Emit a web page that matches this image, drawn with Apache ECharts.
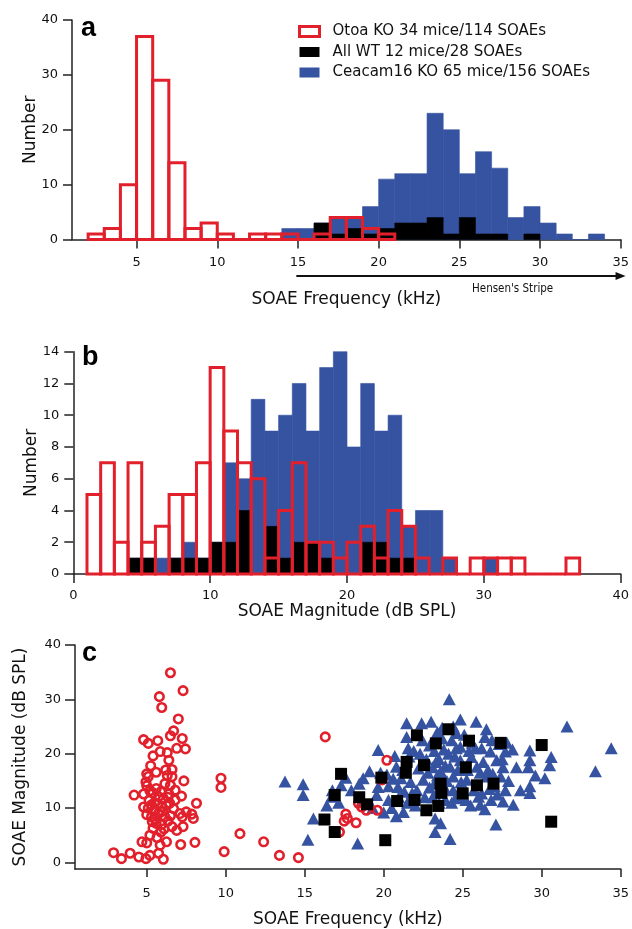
<!DOCTYPE html>
<html>
<head>
<meta charset="utf-8">
<script src="https://cdn.jsdelivr.net/npm/echarts@6/dist/echarts.min.js"></script>
<style>
  html, body { margin: 0; padding: 0; background: #fff; }
  #chart { width: 632px; height: 929px; }
</style>
</head>
<body>
<div id="chart"></div>
<script>
// ---- Panel a: SOAE frequency histograms (1 kHz bins, lower edges) ----
const aOtoaEdges = [2, 3, 4, 5, 6, 7, 8, 9, 10, 11, 12, 13, 14, 15, 16, 17, 18, 19, 20];
const aOtoaCounts = [1, 2, 10, 37, 29, 14, 2, 3, 1, 0, 1, 1, 1, 0, 1, 4, 4, 2, 1];
const aWtEdges = [16, 17, 18, 19, 20, 21, 22, 23, 24, 25, 26, 27, 29];
const aWtCounts = [3, 1, 2, 1, 2, 3, 3, 4, 1, 4, 1, 1, 1];
const aCeacamEdges = [14, 15, 16, 17, 18, 19, 20, 21, 22, 23, 24, 25, 26, 27, 28, 29, 30, 31, 32, 33];
const aCeacamCounts = [2, 2, 3, 4, 4, 6, 11, 12, 12, 23, 20, 12, 16, 13, 4, 6, 3, 1, 0, 1];
const aFreqTicks = [5, 10, 15, 20, 25, 30, 35];

// ---- Panel b: SOAE magnitude histograms (1 dB bins, lower edges) ----
const bOtoaEdges = [1, 2, 3, 4, 5, 6, 7, 8, 9, 10, 11, 12, 13, 14, 15, 16, 17, 18, 19, 20, 21, 22, 23, 24, 25, 26, 27, 28, 29, 30, 31, 32, 33, 34, 35, 36];
const bOtoaCounts = [5, 7, 2, 7, 2, 3, 5, 5, 7, 13, 9, 7, 6, 1, 4, 7, 2, 2, 1, 2, 3, 1, 4, 3, 1, 0, 1, 0, 1, 1, 1, 1, 0, 0, 0, 1];
const bWtEdges = [4, 5, 7, 8, 9, 10, 11, 12, 14, 15, 16, 17, 18, 21, 22, 23, 24];
const bWtCounts = [1, 1, 1, 1, 1, 2, 2, 4, 3, 1, 2, 2, 1, 2, 2, 1, 1];
const bCeacamEdges = [4, 5, 6, 7, 8, 9, 10, 11, 12, 13, 14, 15, 16, 17, 18, 19, 20, 21, 22, 23, 24, 25, 26, 27, 30];
const bCeacamCounts = [1, 1, 1, 1, 2, 1, 2, 7, 6, 11, 9, 10, 12, 9, 13, 14, 8, 12, 9, 10, 3, 4, 4, 1, 1];

// ---- Panel c: frequency (kHz) vs magnitude (dB SPL) ----
const cOtoa = [
  [6.5,34.9],[7.3,31.6],[5.8,30.5],[5.95,28.5],[7.0,26.4],[6.7,24.2],[6.5,23.3],
  [4.8,22.6],[5.1,21.9],[5.7,22.4],[7.25,22.8],[6.9,21.0],[7.45,20.9],[6.3,20.2],[5.85,20.4],[5.4,19.6],[6.4,18.8],
  [6.2,17.0],[6.6,17.1],[5.0,16.3],[5.1,15.8],[6.6,15.8],[7.35,15.0],[4.95,14.8],[5.0,14.1],[6.5,14.2],[6.15,14.5],
  [4.2,12.4],[4.8,12.6],[5.4,12.8],[5.75,12.1],[6.05,11.8],[6.35,12.0],[7.2,12.2],[5.15,11.4],[5.5,11.0],[6.45,10.9],[8.15,10.9],
  [4.8,10.2],[5.1,10.0],[5.45,9.6],[5.95,10.2],[6.25,10.5],[6.7,9.9],[7.1,9.0],[7.5,9.3],[7.85,8.9],
  [5.0,8.8],[5.3,8.4],[5.75,9.0],[6.15,8.4],[6.5,8.6],[7.25,8.4],[7.95,8.1],[5.35,7.5],[5.6,7.2],
  [5.4,6.3],[5.9,5.6],[6.6,6.6],[6.9,5.9],[7.3,6.6],
  [4.7,3.8],[5.0,3.6],[5.85,3.2],[6.25,3.8],[7.15,3.3],[8.05,3.7],
  [2.9,1.8],[3.4,0.7],[3.95,1.7],[4.5,1.0],[4.95,0.7],[5.2,1.3],[5.75,1.7],[6.05,0.6],
  [5.2,13.2],[5.6,13.6],[5.9,13.0],[5.3,10.6],[5.7,10.8],[6.0,9.4],[5.55,8.0],[6.35,7.6],[5.2,5.0],[5.65,4.6],
  [6.4,12.6],[6.8,11.5],[5.95,7.0],[6.1,6.2],[6.8,13.3],[5.6,16.6],[5.25,17.8],[6.3,16.0],
  [9.7,15.5],[9.7,13.8],[9.9,2.0],[10.9,5.3],[12.4,3.8],[13.4,1.3],[14.6,0.9],[16.3,23.1],
  [17.2,5.6],[17.6,8.9],[17.7,8.1],[18.25,7.3],[18.4,10.9],[18.9,9.6],[19.6,9.6],[19.9,15.2],[20.2,18.8],[17.5,7.6],[18.6,10.2]
];
const cWt = [
  [24.1,24.5],[22.1,23.4],[23.3,21.9],[25.4,22.4],[27.4,22.0],[30.0,21.6],[21.45,18.5],[21.4,16.5],
  [22.55,17.9],[25.2,17.5],[17.3,16.3],[19.85,15.6],[23.6,14.5],[23.65,12.8],[25.9,14.2],[26.95,14.5],
  [25.0,12.7],[16.9,12.4],[18.45,12.0],[18.95,10.7],[20.85,11.3],[21.95,11.5],[23.45,10.4],[22.7,9.6],
  [16.25,7.9],[16.9,5.6],[20.1,4.1],[30.6,7.5]
];
const cCeacam = [
  [13.75,14.9],
  [14.9,14.4],[14.9,12.4],
  [15.55,8.1],[15.2,4.2],
  [16.75,13.3],[16.7,12.1],[16.4,10.5],
  [17.3,14.2],[17.15,11.0],[17.95,13.3],[17.6,15.6],
  [18.45,14.5],[18.7,15.5],[18.35,3.5],[18.6,11.2],
  [19.1,16.8],[19.65,20.7],[19.65,13.9],[19.55,12.4],[19.3,10.0],[19.8,16.5],
  [20.7,19.6],[20.8,17.6],[20.9,13.9],[20.3,11.5],[20.5,10.0],[20.0,9.2],[20.6,15.4],[20.3,14.0],[20.95,12.0],[20.2,16.2],[20.8,8.5],
  [21.45,25.6],[21.45,23.1],[21.55,21.0],[21.25,9.3],[21.6,19.5],[21.2,17.0],[21.7,14.8],[21.3,13.0],[21.8,12.8],[21.5,11.0],[21.9,20.5],[21.1,15.5],
  [22.4,25.6],[22.1,13.3],[22.5,15.2],[22.3,20.0],[22.7,19.0],[22.2,17.3],[22.9,21.5],[22.6,12.0],[22.8,16.5],[22.0,10.5],[22.45,22.5],[22.9,13.8],
  [23.0,25.9],[23.25,8.1],[23.25,5.6],[23.6,7.2],[23.4,24.0],[23.7,22.8],[23.2,20.5],[23.5,19.0],[23.8,20.8],[23.1,17.5],[23.4,16.0],[23.9,17.8],
  [23.2,14.5],[23.8,15.2],[23.1,12.0],[23.9,11.5],[23.5,11.0],[23.3,18.5],[23.7,24.8],[23.9,13.5],[23.1,22.2],[23.6,16.8],[23.4,13.0],
  [24.15,30.0],[24.85,26.3],[24.4,25.0],[24.85,21.3],[24.85,18.8],[24.4,15.8],[24.4,13.3],[24.2,4.3],[24.3,22.5],[24.6,23.8],
  [24.1,20.0],[24.5,19.5],[24.7,17.0],[24.2,17.6],[24.9,14.8],[24.6,12.2],[24.3,11.0],[24.8,11.8],[24.0,15.0],[24.6,21.0],
  [25.85,25.9],[25.55,19.4],[25.9,17.6],[25.25,15.2],[25.7,13.3],[25.1,23.5],[25.4,20.5],[25.6,22.0],[25.3,17.0],[25.2,11.5],[25.8,21.0],[25.5,10.5],
  [26.0,12.1],[26.1,10.6],[26.2,12.7],[26.4,23.1],[26.85,22.5],[26.75,20.4],[26.5,15.8],[26.3,18.5],[26.6,17.0],[26.9,16.3],[26.2,21.0],[26.7,13.5],
  [26.4,9.8],[26.8,11.5],[26.1,16.5],[26.5,24.5],
  [27.15,18.8],[27.7,20.4],[27.55,17.5],[27.9,15.0],[27.7,13.3],[27.55,11.2],[27.1,7.0],[27.3,21.8],[27.4,15.8],[27.2,12.5],[27.8,22.0],[27.0,14.0],[27.5,19.0],
  [28.15,20.8],[28.4,17.5],[28.65,13.3],[28.2,10.6],
  [29.25,20.6],[29.25,18.8],[29.15,17.5],[29.25,14.0],[29.25,12.8],[29.6,16.0],
  [30.6,19.4],[30.5,17.9],[30.2,15.5],
  [31.6,25.0],[33.4,16.8],[34.4,21.0]
];
const cFreqTicks = [5, 10, 15, 20, 25, 30, 35];
const cMagTicks = [0, 10, 20, 30, 40];

const names = {
  otoa: 'Otoa KO 34 mice/114 SOAEs',
  wt: 'All WT 12 mice/28 SOAEs',
  ceacam: 'Ceacam16 KO 65 mice/156 SOAEs'
};

const RED = '#e2202c';
const BLUE = '#3553a0';
const BLACK = '#000000';
const AXIS = '#222222';
const FONT = 'DejaVu Sans';
const TICK_FONT = 13;
const NAME_FONT = 17;

function pairs(edges, counts) {
  return edges.map((e, i) => [e, counts[i]]);
}

// Histogram bars drawn as rectangles spanning [edge, edge + 1] on the value axis.
function histogram(name, gridIdx, edges, counts, outline, color) {
  return {
    name: name,
    type: 'custom',
    xAxisIndex: gridIdx,
    yAxisIndex: gridIdx,
    clip: false,
    silent: true,
    itemStyle: { color: outline ? '#ffffff' : color },
    data: pairs(edges, counts),
    renderItem: function (params, api) {
      const x0 = api.value(0);
      const h = api.value(1);
      const p0 = api.coord([x0, 0]);
      const p1 = api.coord([x0 + 1, h]);
      const style = outline
        ? { fill: 'none', stroke: color, lineWidth: 3 }
        : { fill: color, stroke: color, lineWidth: 0.6 };
      return {
        type: 'rect',
        shape: { x: p0[0], y: p1[1], width: p1[0] - p0[0], height: p0[1] - p1[1] },
        style: style
      };
    }
  };
}

function valueAxis(gridIdx, min, max, opts) {
  return Object.assign({
    type: 'value',
    gridIndex: gridIdx,
    min: min,
    max: max,
    splitLine: { show: false },
    axisLine: { show: true, onZero: false, lineStyle: { color: AXIS, width: 1.5 } },
    axisTick: { show: true, length: 9, lineStyle: { color: AXIS, width: 1.5 } },
    axisLabel: { color: '#111', fontSize: TICK_FONT, fontFamily: FONT, margin: 14 },
    nameTextStyle: { color: '#111', fontSize: NAME_FONT, fontFamily: FONT },
    nameLocation: 'middle',
    nameMoveOverlap: false
  }, opts || {});
}

const chart = echarts.init(document.getElementById('chart'), null, { renderer: 'canvas' });

const option = {
  animation: false,
  backgroundColor: '#ffffff',
  grid: [
    { left: 72, top: 20, width: 550.7, height: 219.5 },
    { left: 73.3, top: 351.7, width: 550.7, height: 222.3 },
    { left: 75, top: 645, width: 545.7, height: 224 }
  ],
  xAxis: [
    valueAxis(0, 1, 35, {
      name: 'SOAE Frequency (kHz)', nameGap: 52,
      axisTick: { show: true, length: 9, customValues: aFreqTicks, lineStyle: { color: AXIS, width: 1.5 } },
      axisLabel: { color: '#111', fontSize: TICK_FONT, fontFamily: FONT, margin: 17, customValues: aFreqTicks }
    }),
    valueAxis(1, 0, 40, {
      interval: 10, name: 'SOAE Magnitude (dB SPL)', nameGap: 29,
      axisLabel: { color: '#111', fontSize: TICK_FONT, fontFamily: FONT, margin: 15 }
    }),
    valueAxis(2, 0.46, 35, {
      name: 'SOAE Frequency (kHz)', nameGap: 42,
      axisTick: { show: true, length: 8, customValues: cFreqTicks, lineStyle: { color: AXIS, width: 1.5 } },
      axisLabel: { color: '#111', fontSize: TICK_FONT, fontFamily: FONT, margin: 18, customValues: cFreqTicks }
    })
  ],
  yAxis: [
    valueAxis(0, 0, 40, { interval: 10, name: 'Number', nameGap: 33 }),
    valueAxis(1, 0, 14, { interval: 2, name: 'Number', nameGap: 33 }),
    valueAxis(2, -1.2, 40, {
      name: 'SOAE Magnitude (dB SPL)', nameGap: 46,
      axisTick: { show: true, length: 10, customValues: cMagTicks, lineStyle: { color: AXIS, width: 1.5 } },
      axisLabel: { color: '#111', fontSize: TICK_FONT, fontFamily: FONT, margin: 14, customValues: cMagTicks }
    })
  ],
  legend: {
    left: 293,
    top: 19,
    orient: 'vertical',
    itemWidth: 20,
    itemHeight: 10,
    itemGap: 5.5,
    selectedMode: false,
    textStyle: { color: '#111', fontSize: 15, fontFamily: FONT, padding: [0, 0, 0, 8] },
    data: [
      { name: names.otoa, icon: 'rect', itemStyle: { color: '#ffffff', borderColor: RED, borderWidth: 3 } },
      { name: names.wt, icon: 'rect', itemStyle: { color: BLACK } },
      { name: names.ceacam, icon: 'rect', itemStyle: { color: BLUE } }
    ]
  },
  series: [
    histogram(names.ceacam, 0, aCeacamEdges, aCeacamCounts, false, BLUE),
    histogram(names.wt, 0, aWtEdges, aWtCounts, false, BLACK),
    histogram(names.otoa, 0, aOtoaEdges, aOtoaCounts, true, RED),

    histogram('b-ceacam', 1, bCeacamEdges, bCeacamCounts, false, BLUE),
    histogram('b-wt', 1, bWtEdges, bWtCounts, false, BLACK),
    histogram('b-otoa', 1, bOtoaEdges, bOtoaCounts, true, RED),

    {
      name: 'c-ceacam', type: 'scatter', xAxisIndex: 2, yAxisIndex: 2, silent: true,
      symbol: 'triangle', symbolSize: [13, 12],
      itemStyle: { color: BLUE, opacity: 1 },
      data: cCeacam
    },
    {
      name: 'c-otoa', type: 'scatter', xAxisIndex: 2, yAxisIndex: 2, silent: true,
      symbol: 'circle', symbolSize: 8.5,
      itemStyle: { color: 'rgba(255,255,255,0)', borderColor: RED, borderWidth: 2.6, opacity: 1 },
      data: cOtoa
    },
    {
      name: 'c-wt', type: 'scatter', xAxisIndex: 2, yAxisIndex: 2, silent: true,
      symbol: 'rect', symbolSize: 12,
      itemStyle: { color: BLACK, opacity: 1 },
      data: cWt
    }
  ]
};

chart.setOption(option);

// Panel letters and the Hensen's stripe arrow under panel a's frequency axis.
const arrowY = 276;
const ax0 = chart.convertToPixel({ xAxisIndex: 0 }, 14.9);
const ax1 = chart.convertToPixel({ xAxisIndex: 0 }, 35.3);
const stripeLabelX = chart.convertToPixel({ xAxisIndex: 0 }, 28.3);
chart.setOption({
  graphic: [
    { type: 'text', left: 81, top: 15, style: { text: 'a', font: 'bold 27px "Liberation Sans", Arial, sans-serif', fill: '#000' } },
    { type: 'text', left: 82, top: 344, style: { text: 'b', font: 'bold 27px "Liberation Sans", Arial, sans-serif', fill: '#000' } },
    { type: 'text', left: 82, top: 640, style: { text: 'c', font: 'bold 27px "Liberation Sans", Arial, sans-serif', fill: '#000' } },
    { type: 'line', shape: { x1: ax0, y1: arrowY, x2: ax1 - 6, y2: arrowY }, style: { stroke: '#111', lineWidth: 2 } },
    { type: 'polygon', shape: { points: [[ax1, arrowY], [ax1 - 10, arrowY - 4], [ax1 - 10, arrowY + 4]] }, style: { fill: '#111' } },
    { type: 'text', x: stripeLabelX, y: 289, style: { text: "Hensen's Stripe", font: '11.5px "DejaVu Sans Condensed", "DejaVu Sans", sans-serif', fill: '#111', align: 'center', verticalAlign: 'middle' } }
  ]
});
</script>
</body>
</html>
